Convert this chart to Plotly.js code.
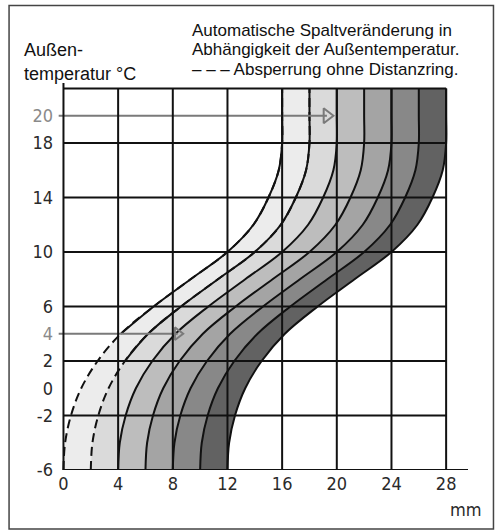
<!DOCTYPE html>
<html>
<head>
<meta charset="utf-8">
<script src="https://cdn.plot.ly/plotly-3.0.1.min.js"></script>
<style>
html,body{margin:0;padding:0;background:#fff;}
#chart{width:501px;height:530px;}
</style>
</head>
<body>
<div id="chart"></div>
<script>
// ---- data ----
// shape of one gap curve: outside temperature (°C) vs. gap offset (mm) from its start
const profileTemp = [-6, -4, -2, 0, 2, 4, 6, 8, 10, 12, 14, 16, 18, 20, 22];
const profileGap  = [0, 0.12, 0.55, 1.3, 2.5, 4.2, 6.6, 9.3, 12, 13.9, 15.0, 15.75, 16, 16, 16];
// start gap (mm at -6 °C) of each curve
const curveStarts = [0, 2, 4, 6, 8, 10, 12];
// the first two curves are dashed below these temperatures
const dashedCurves = [0, 1];
const solidFromTemp = [4, 2];
// band colours between successive curves
const bandColors = ['#ececec', '#dadada', '#bdbdbd', '#a4a4a4', '#888888', '#626262'];
// axes
const xTickVals = [0, 4, 8, 12, 16, 20, 24, 28];
const yTickVals = [-6, -2, 0, 2, 4, 6, 10, 14, 18, 20];
const yTickGray = [20, 4];
const gridX = [0, 4, 8, 12, 16, 20, 24, 28];
const gridY = [-6, -2, 2, 6, 10, 14, 18, 22];
// example arrows: temperature -> resulting gap
const arrowTemps = [20, 4];
const arrowGaps = [19.8, 8.8];

// ---- build ----
const traces = [];
curveStarts.forEach((s, i) => {
  traces.push({
    x: profileGap.map(d => d + s), y: profileTemp,
    mode: 'lines', type: 'scatter', hoverinfo: 'skip',
    line: {shape: 'spline', width: 0, color: 'rgba(0,0,0,0)'},
    fill: i === 0 ? 'none' : 'tonextx',
    fillcolor: i === 0 ? 'rgba(0,0,0,0)' : bandColors[i - 1],
    showlegend: false
  });
});
curveStarts.forEach((s, i) => {
  const dashed = dashedCurves.indexOf(i) >= 0;
  traces.push({
    x: profileGap.map(d => d + s), y: profileTemp,
    mode: 'lines', type: 'scatter', hoverinfo: 'skip',
    line: {shape: 'spline', width: 2, color: '#111', dash: dashed ? '9px,5px' : 'solid'},
    showlegend: false
  });
  if (dashed) {
    const k = dashedCurves.indexOf(i);
    const xs = [], ys = [];
    profileTemp.forEach((t, j) => { if (t >= solidFromTemp[k]) { xs.push(profileGap[j] + s); ys.push(t); } });
    traces.push({
      x: xs, y: ys, mode: 'lines', type: 'scatter', hoverinfo: 'skip',
      line: {shape: 'spline', width: 2, color: '#111'}, showlegend: false
    });
  }
});

const pxPerMm = 410.5 / 30;
arrowTemps.forEach((t, i) => {
  const headSize = i === 0 ? 13 : 11;
  const headCenter = arrowGaps[i] - (headSize * 0.55) / pxPerMm;
  traces.push({
    x: [-0.35, headCenter], y: [t, t], mode: 'lines', type: 'scatter', hoverinfo: 'skip',
    line: {color: '#7a7a7a', width: 2}, showlegend: false
  });
  traces.push({
    x: [headCenter], y: [t], mode: 'markers', type: 'scatter', hoverinfo: 'skip',
    marker: {symbol: 'triangle-right-open', size: headSize, color: '#7a7a7a', line: {width: 2, color: '#7a7a7a'}},
    showlegend: false, cliponaxis: false
  });
});

const shapes = [];
gridX.forEach(x => {
  shapes.push({type: 'line', xref: 'x', yref: 'y', x0: x, x1: x, y0: -6, y1: x === 0 ? 22.4 : 22,
    line: {color: '#111', width: 2}, layer: 'above'});
});
gridY.forEach(y => {
  shapes.push({type: 'line', xref: 'x', yref: 'y', x0: 0, x1: y === -6 ? 29.6 : 28, y0: y, y1: y,
    line: {color: '#111', width: 2}, layer: 'above'});
});
// outer frame
shapes.push({type: 'rect', xref: 'paper', yref: 'paper',
  x0: (8.5 - 57.5) / 410.5, x1: (493.5 - 57.5) / 410.5,
  y0: (470 - 529) / 387, y1: (470 - 5.5) / 387,
  line: {color: '#444', width: 1.5}, fillcolor: 'rgba(0,0,0,0)', layer: 'below'});

const px = v => (v - 57.5) / 410.5;
const py = v => (470 - v) / 387;
const txtFont = {family: 'Liberation Sans, Arial, sans-serif', size: 18, color: '#111'};
const noteFont = {family: 'Liberation Sans, Arial, sans-serif', size: 17, color: '#111'};
const tickFont = {family: 'Liberation Sans Narrow, DejaVu Sans Condensed, sans-serif', size: 18, color: '#2a2a2a'};
const annotations = [
  {text: 'Außen-', x: px(22.5), y: py(50), font: txtFont},
  {text: 'temperatur °C', x: px(22.5), y: py(74), font: txtFont},
  {text: 'Automatische Spaltveränderung in', x: px(191), y: py(30), font: noteFont},
  {text: 'Abhängigkeit der Außentemperatur.', x: px(191), y: py(49.5), font: noteFont},
  {text: '– – – Absperrung ohne Distanzring.', x: px(191), y: py(69), font: noteFont}
].map(a => Object.assign({xref: 'paper', yref: 'paper', showarrow: false, xanchor: 'left', yanchor: 'middle', borderpad: 0}, a));
annotations.push({text: 'mm', x: px(466), y: py(509), xref: 'paper', yref: 'paper',
  xanchor: 'center', yanchor: 'middle', showarrow: false, font: tickFont});

const layout = {
  width: 501, height: 530,
  margin: {l: 57.5, r: 33, t: 83, b: 60},
  paper_bgcolor: '#fff', plot_bgcolor: '#fff',
  showlegend: false,
  xaxis: {range: [-0.4, 29.6], showgrid: false, zeroline: false, showline: false,
    tickvals: xTickVals, ticktext: xTickVals.map(String), ticks: '', ticklabelstandoff: 1,
    tickfont: tickFont, fixedrange: true},
  yaxis: {range: [-6, 22.4], showgrid: false, zeroline: false, showline: false,
    tickvals: yTickVals,
    ticktext: yTickVals.map(v => yTickGray.indexOf(v) >= 0 ? '<span style="color:#8a8a8a">' + v + '</span>' : String(v)),
    ticks: '', ticklabelstandoff: 4, tickfont: tickFont, fixedrange: true},
  shapes: shapes,
  annotations: annotations
};
Plotly.newPlot('chart', traces, layout, {displayModeBar: false, staticPlot: true});
</script>
</body>
</html>
